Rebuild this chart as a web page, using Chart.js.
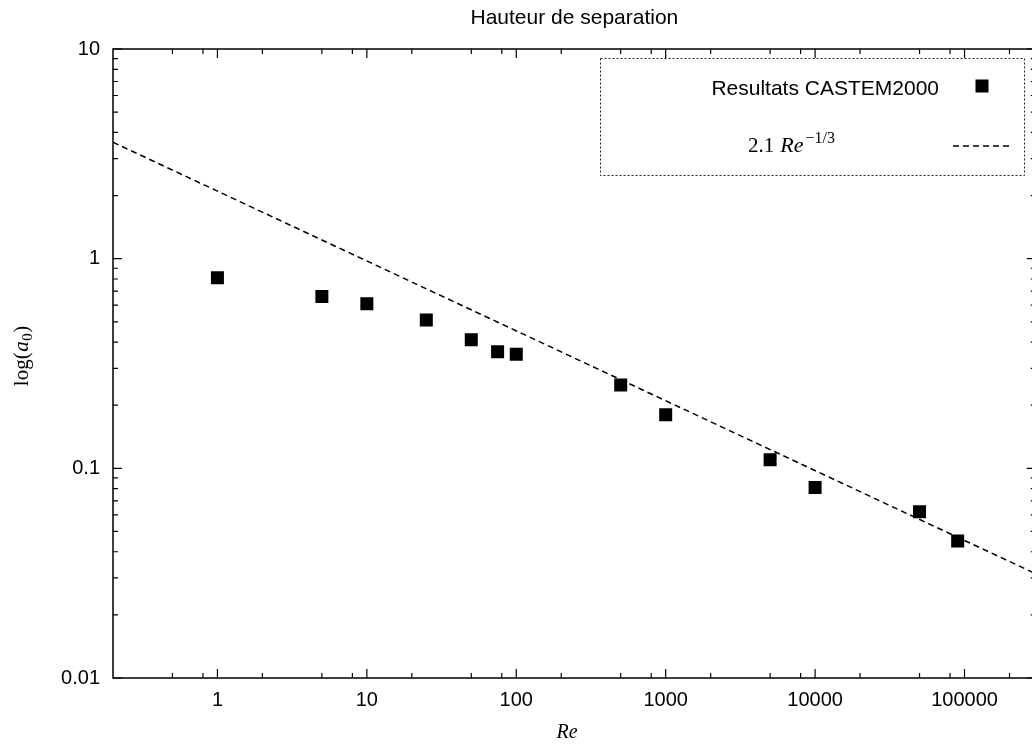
<!DOCTYPE html>
<html>
<head>
<meta charset="utf-8">
<script src="https://cdn.jsdelivr.net/npm/chart.js@4.4.0/dist/chart.umd.min.js"></script>
<style>
html, body { margin: 0; padding: 0; background: #fff; overflow: hidden; }
</style>
</head>
<body>
<canvas id="graphe" width="1045" height="744"></canvas>
<script>
// Résultats CASTEM2000
const reCastem = [1, 5, 10, 25, 50, 75, 100, 500, 1000, 5000, 10000, 50000, 90000];
const a0Castem = [0.81, 0.66, 0.61, 0.51, 0.41, 0.36, 0.35, 0.25, 0.18, 0.11, 0.081, 0.062, 0.045];

// Droite 2.1 Re^-1/3 : extrémités
const reLoi = [0.2, 300000];
const a0Loi = [3.59, 0.0314];

// Graduations
const xTicks = [1, 10, 100, 1000, 10000, 100000];
const yTicks = [0.01, 0.1, 1, 10];
const xMinorMant = [2, 5, 8];
const yMinorMant = [2, 3, 4, 5, 6, 7, 8, 9];

const SANS = '"Liberation Sans", Arial, Helvetica, sans-serif';
const SERIF = '"Liberation Serif", "Times New Roman", serif';

function mineures(min, max, mant) {
    const out = [];
    for (let e = Math.floor(Math.log10(min)) - 1; e <= Math.ceil(Math.log10(max)); e++) {
        mant.forEach(m => {
            const v = m * Math.pow(10, e);
            if (v > min && v < max) out.push(v);
        });
    }
    return out;
}

// texte "mathématique" en morceaux : [police, texte, décalage vertical]
function texteMath(ctx, morceaux, x, y, centre) {
    let total = 0;
    morceaux.forEach(m => { ctx.font = m[0]; total += ctx.measureText(m[1]).width + (m[3] || 0); });
    let x0 = centre ? x - total / 2 : x;
    morceaux.forEach(m => {
        ctx.font = m[0];
        ctx.fillText(m[1], x0, y + m[2]);
        x0 += ctx.measureText(m[1]).width + (m[3] || 0);
    });
}

// Cadre, graduations intérieures, titres et légende
const decor = {
    id: 'decor',
    afterDraw(chart) {
        const ctx = chart.ctx;
        const a = chart.chartArea;
        const sx = chart.scales.x, sy = chart.scales.y;
        ctx.save();
        ctx.strokeStyle = '#000';
        ctx.fillStyle = '#000';

        // cadre
        ctx.lineWidth = 1.5;
        ctx.strokeRect(a.left, a.top, a.right - a.left, a.bottom - a.top);

        // graduations
        ctx.beginPath();
        xTicks.forEach(v => {
            const px = sx.getPixelForValue(v);
            ctx.moveTo(px, a.bottom); ctx.lineTo(px, a.bottom - 9);
            ctx.moveTo(px, a.top); ctx.lineTo(px, a.top + 9);
        });
        mineures(sx.min, sx.max, xMinorMant).forEach(v => {
            const px = sx.getPixelForValue(v);
            ctx.moveTo(px, a.bottom); ctx.lineTo(px, a.bottom - 5);
            ctx.moveTo(px, a.top); ctx.lineTo(px, a.top + 5);
        });
        yTicks.forEach(v => {
            const py = sy.getPixelForValue(v);
            ctx.moveTo(a.left, py); ctx.lineTo(a.left + 9, py);
            ctx.moveTo(a.right, py); ctx.lineTo(a.right - 9, py);
        });
        mineures(sy.min, sy.max, yMinorMant).forEach(v => {
            const py = sy.getPixelForValue(v);
            ctx.moveTo(a.left, py); ctx.lineTo(a.left + 5, py);
            ctx.moveTo(a.right, py); ctx.lineTo(a.right - 5, py);
        });
        ctx.lineWidth = 1.2;
        ctx.stroke();

        // titre
        const cx = (a.left + a.right) / 2;
        ctx.font = '21px ' + SANS;
        ctx.textAlign = 'center';
        ctx.textBaseline = 'alphabetic';
        ctx.fillText('Hauteur de separation', cx, 24);

        // titre axe x
        ctx.font = 'italic 20px ' + SERIF;
        ctx.fillText('Re', 567, 738);

        // titre axe y : log(a0)
        ctx.save();
        ctx.translate(28, 356);
        ctx.rotate(-Math.PI / 2);
        ctx.textAlign = 'left';
        texteMath(ctx, [
            ['21px ' + SERIF, 'log(', 0, 0.5],
            ['italic 21px ' + SERIF, 'a', 0, 0.5],
            ['15px ' + SERIF, '0', 4, 0.5],
            ['21px ' + SERIF, ')', 0]
        ], 0, 0, true);
        ctx.restore();

        // légende
        ctx.save();
        ctx.lineWidth = 1;
        ctx.strokeStyle = '#222';
        ctx.setLineDash([2, 2]);
        ctx.strokeRect(600.5, 58.5, 424, 117);
        ctx.restore();

        const dsPts = chart.data.datasets[0];
        const dsLoi = chart.data.datasets[1];

        ctx.font = '21px ' + SANS;
        ctx.textAlign = 'right';
        ctx.fillText(dsPts.label, 939, 95);
        ctx.fillStyle = dsPts.backgroundColor;
        ctx.fillRect(975.5, 79.5, 13, 13);

        ctx.fillStyle = '#000';
        ctx.textAlign = 'left';
        texteMath(ctx, [
            ['21px ' + SERIF, '2.1', 0, 6],
            ['italic 22px ' + SERIF, 'Re', 0, 2],
            ['16px ' + SERIF, '\u22121/3', -9]
        ], 748, 152, false);

        ctx.save();
        ctx.strokeStyle = dsLoi.borderColor;
        ctx.lineWidth = dsLoi.borderWidth;
        ctx.setLineDash(dsLoi.borderDash);
        ctx.beginPath();
        ctx.moveTo(953, 146);
        ctx.lineTo(1013, 146);
        ctx.stroke();
        ctx.restore();

        ctx.restore();
    }
};

const ctx = document.getElementById('graphe').getContext('2d');
new Chart(ctx, {
    type: 'scatter',
    data: {
        datasets: [{
            label: 'Resultats CASTEM2000',
            data: reCastem.map((re, i) => ({ x: re, y: a0Castem[i] })),
            backgroundColor: '#000',
            borderWidth: 0,
            pointStyle: 'rect',
            pointRadius: 9.2,
            pointHoverRadius: 9.2
        }, {
            label: '2.1 Re^-1/3',
            type: 'line',
            data: reLoi.map((re, i) => ({ x: re, y: a0Loi[i] })),
            borderColor: '#000',
            borderWidth: 1.5,
            borderDash: [6, 4],
            pointRadius: 0,
            fill: false,
            tension: 0
        }]
    },
    options: {
        responsive: false,
        animation: false,
        layout: { padding: { top: 49, right: 8, left: 0, bottom: 0 } },
        plugins: {
            legend: { display: false },
            title: { display: false },
            tooltip: { enabled: false }
        },
        scales: {
            x: {
                type: 'logarithmic',
                min: 0.2,
                max: 300000,
                grid: { display: false, drawTicks: false },
                border: { display: false },
                ticks: {
                    color: '#000',
                    font: { family: SANS, size: 20 },
                    padding: 10,
                    maxRotation: 0,
                    autoSkip: false,
                    callback: v => String(v)
                },
                afterBuildTicks: s => { s.ticks = xTicks.map(v => ({ value: v })); },
                afterFit: s => { s.height = 66; }
            },
            y: {
                type: 'logarithmic',
                min: 0.01,
                max: 10,
                grid: { display: false, drawTicks: false },
                border: { display: false },
                ticks: {
                    color: '#000',
                    font: { family: SANS, size: 20 },
                    padding: 13,
                    autoSkip: false,
                    callback: v => String(v)
                },
                afterBuildTicks: s => { s.ticks = yTicks.map(v => ({ value: v })); },
                afterFit: s => { s.width = 113; }
            }
        }
    },
    plugins: [decor]
});
</script>
</body>
</html>
